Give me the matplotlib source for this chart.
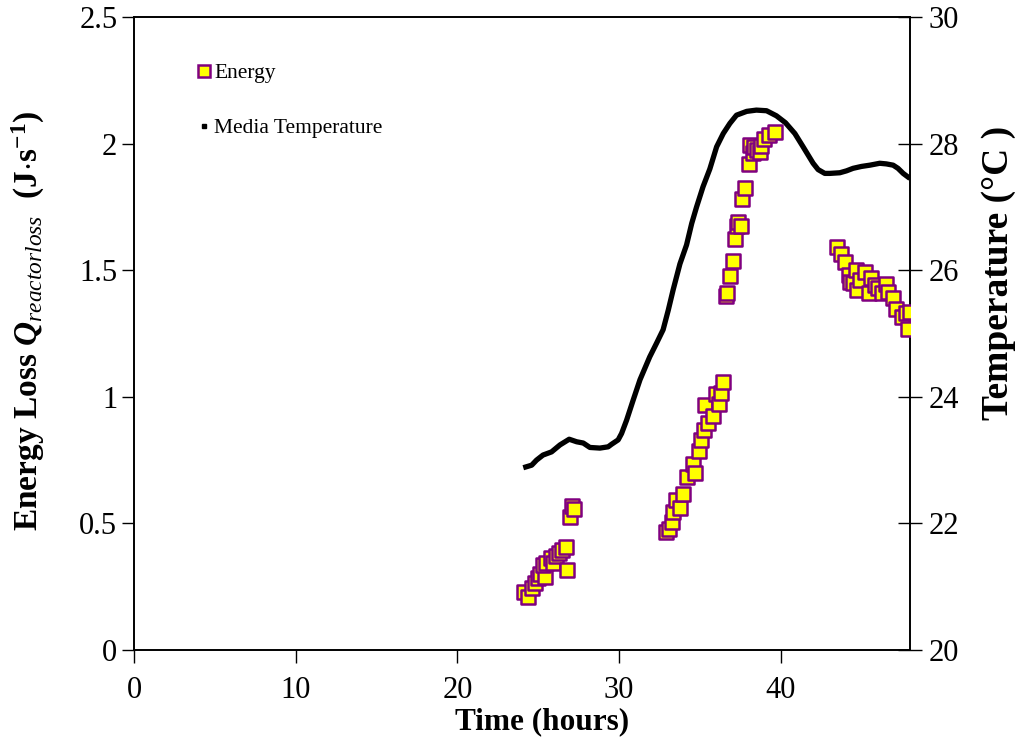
import matplotlib
matplotlib.use("Agg")
import matplotlib.pyplot as plt
from matplotlib.lines import Line2D

plt.rcParams["font.family"] = ["Liberation Serif", "DejaVu Serif"]
plt.rcParams["mathtext.fontset"] = "custom"
plt.rcParams["mathtext.rm"] = "Liberation Serif"
plt.rcParams["mathtext.it"] = "Liberation Serif:italic"
plt.rcParams["mathtext.bf"] = "Liberation Serif:bold"
plt.rcParams["mathtext.bfit"] = "Liberation Serif:italic:bold"

# Energy loss measurements (hours, J/s)
energy_time = [24.1, 24.4, 24.6, 24.8, 25.0, 25.1, 25.4, 25.3, 25.5, 25.8, 25.9, 26.1,
               26.3, 26.5, 26.7, 26.8, 27.0, 27.1, 27.2,
               32.9, 33.1, 33.25, 33.35, 33.55, 33.8, 33.97, 34.2, 34.55, 34.7, 34.96,
               35.1, 35.25, 35.35, 35.5, 35.8, 36.0, 36.2, 36.3, 36.45,
               36.6, 36.7, 36.85, 37.06, 37.2, 37.27, 37.37, 37.52, 37.64, 37.8, 38.03,
               38.1, 38.26, 38.34, 38.55, 38.7, 38.8, 39.0, 39.3, 39.64,
               43.46, 43.76, 43.97, 44.24, 44.3, 44.49, 44.65, 44.7, 44.94, 45.2, 45.47,
               45.62, 45.82, 46.03, 46.24, 46.5, 46.65, 46.96, 47.12, 47.48, 47.74,
               47.89, 47.99]
energy_loss = [0.23, 0.21, 0.245, 0.265, 0.285, 0.30, 0.29, 0.335, 0.345, 0.365, 0.345, 0.37,
               0.385, 0.395, 0.406, 0.316, 0.526, 0.57, 0.557,
               0.465, 0.477, 0.507, 0.544, 0.592, 0.562, 0.616, 0.684, 0.735, 0.698, 0.786,
               0.83, 0.869, 0.968, 0.895, 0.924, 1.011, 0.97, 1.016, 1.06,
               1.398, 1.409, 1.478, 1.538, 1.622, 1.675, 1.689, 1.675, 1.781, 1.826, 1.918,
               1.995, 1.964, 1.985, 1.975, 1.968, 1.99, 2.02, 2.034, 2.047,
               1.593, 1.564, 1.534, 1.481, 1.455, 1.448, 1.50, 1.422, 1.461, 1.494, 1.409,
               1.468, 1.441, 1.428, 1.409, 1.444, 1.415, 1.389, 1.345, 1.316, 1.33,
               1.266, 1.336]

# Media temperature (hours, deg C)
temp_time = [24.08, 24.6, 24.9, 25.3, 25.83, 26.35, 26.92, 27.38, 27.79, 28.2, 28.82,
             29.33, 29.54, 29.95, 30.16, 30.47, 30.88, 31.3, 31.9, 32.33, 32.73, 33.05,
             33.35, 33.77, 34.18, 34.5, 34.8, 35.2, 35.62, 36.04, 36.45, 36.86, 37.27,
             37.9, 38.5, 39.13, 39.74, 40.3, 40.88, 41.39, 41.7, 42.01, 42.32, 42.73,
             43.04, 43.66, 44.07, 44.48, 45.0, 45.52, 46.13, 46.54, 46.96, 47.26, 47.58,
             48.0]
temp_vals = [22.88, 22.92, 23.0, 23.08, 23.13, 23.24, 23.33, 23.29, 23.27, 23.2, 23.19,
             23.21, 23.25, 23.32, 23.42, 23.63, 23.95, 24.27, 24.63, 24.85, 25.06, 25.37,
             25.69, 26.1, 26.4, 26.74, 27.0, 27.32, 27.6, 27.95, 28.16, 28.32, 28.45,
             28.51, 28.53, 28.52, 28.44, 28.33, 28.16, 27.95, 27.82, 27.69, 27.59, 27.53,
             27.53, 27.54, 27.57, 27.61, 27.64, 27.66, 27.69, 27.68, 27.66, 27.61, 27.53,
             27.45]

x_ticks = [0, 10, 20, 30, 40]
left_ticks = [0, 0.5, 1, 1.5, 2, 2.5]
left_tick_labels = ["0", "0.5", "1", "1.5", "2", "2.5"]
right_ticks = [20, 22, 24, 26, 28, 30]

fig = plt.figure(figsize=(10.23, 7.42), dpi=100)
ax = fig.add_axes([0.131, 0.124, 0.7585, 0.853])
ax2 = ax.twinx()

ax.scatter(energy_time, energy_loss, marker="s", s=95, facecolor="#ffff00",
           edgecolor="#800080", linewidths=1.8, zorder=3)
ax2.plot(temp_time, temp_vals, color="black", lw=3.8, solid_capstyle="butt",
         solid_joinstyle="round", zorder=2)
ax.set_zorder(ax2.get_zorder() + 1)
ax.patch.set_visible(False)

ax.set_xlim(0, 48)
ax.set_ylim(0, 2.5)
ax2.set_ylim(20, 30)
ax.set_xticks(x_ticks)
ax.set_yticks(left_ticks)
ax.set_yticklabels(left_tick_labels)
ax2.set_yticks(right_ticks)

ax.tick_params(axis="both", direction="out", length=9, width=1, labelsize=22, pad=3)
ax.tick_params(axis="x", pad=10)
ax2.tick_params(axis="y", direction="inout", length=17, width=1, labelsize=22, pad=5)

for a in (ax, ax2):
    for s in a.spines.values():
        s.set_linewidth(1.2)

ax.set_xlabel("Time (hours)", fontsize=22.5, fontweight="bold")
ax.xaxis.set_label_coords(0.526, -0.09)
ax.set_ylabel(r"Energy Loss $\mathbfit{Q}_{\mathit{reactorloss}}$  (J$\mathbf{\cdot}$s$^{\mathbf{-1}}$)",
              fontsize=24, fontweight="bold")
ax.yaxis.set_label_coords(-0.112, 0.52)
ax2.set_ylabel("Temperature (°C )", fontsize=27, fontweight="bold")
ax2.yaxis.set_label_coords(1.092, 0.595)

handles = [
    Line2D([], [], marker="s", ls="none", markersize=9, markerfacecolor="#ffff00",
           markeredgecolor="#800080", markeredgewidth=1.8),
    Line2D([], [], marker="s", ls="none", markersize=3, color="black"),
]
ax.legend(handles, ["Energy", "Media Temperature"], loc="upper left",
          bbox_to_anchor=(0.0825, 0.927), frameon=False, fontsize=15.5,
          handlelength=0.6, handletextpad=0.15, labelspacing=1.63, borderaxespad=0,
          borderpad=0)

fig.savefig("out.png", dpi=100)
